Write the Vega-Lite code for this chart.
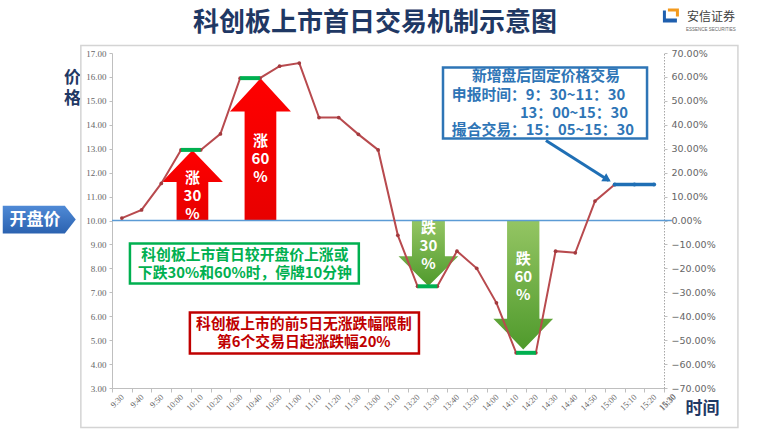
{
  "$schema": "https://vega.github.io/schema/vega-lite/v6.json",
  "width": 552,
  "height": 335,
  "autosize": {"type": "none"},
  "padding": {"left": 112, "top": 53, "right": 96, "bottom": 45},
  "background": "white",
  "config": {
    "view": {"stroke": null},
    "font": "Noto Sans CJK SC",
    "axis": {"labelFlush": false, "labelOverlap": false, "grid": false}
  },
  "datasets": {
    "series": [
      {"t": "9:30", "k": 0, "v": 10.1},
      {"t": "9:40", "k": 1, "v": 10.44},
      {"t": "9:50", "k": 2, "v": 11.55},
      {"t": "10:00", "k": 3, "v": 12.95},
      {"t": "10:10", "k": 4, "v": 12.95},
      {"t": "10:20", "k": 5, "v": 13.62},
      {"t": "10:30", "k": 6, "v": 15.95},
      {"t": "10:40", "k": 7, "v": 15.95},
      {"t": "10:50", "k": 8, "v": 16.45},
      {"t": "11:00", "k": 9, "v": 16.58},
      {"t": "11:10", "k": 10, "v": 14.3},
      {"t": "11:20", "k": 11, "v": 14.3},
      {"t": "11:30", "k": 12, "v": 13.6},
      {"t": "13:00", "k": 13, "v": 12.95},
      {"t": "13:10", "k": 14, "v": 9.38},
      {"t": "13:20", "k": 15, "v": 7.25},
      {"t": "13:30", "k": 16, "v": 7.25},
      {"t": "13:40", "k": 17, "v": 8.72},
      {"t": "13:50", "k": 18, "v": 8.0},
      {"t": "14:00", "k": 19, "v": 6.56},
      {"t": "14:10", "k": 20, "v": 4.47},
      {"t": "14:20", "k": 21, "v": 4.47},
      {"t": "14:30", "k": 22, "v": 8.72},
      {"t": "14:40", "k": 23, "v": 8.65},
      {"t": "14:50", "k": 24, "v": 10.81},
      {"t": "15:00", "k": 25, "v": 11.5}
    ],
    "after": [
      {"t": "15:00", "k": 25, "v": 11.5},
      {"t": "15:10", "k": 26, "v": 11.5},
      {"t": "15:20", "k": 27, "v": 11.5}
    ],
    "halts": [
      {"k": 3, "k2": 4, "v": 12.95},
      {"k": 6, "k2": 7, "v": 15.95},
      {"k": 15, "k2": 16, "v": 7.25},
      {"k": 20, "k2": 21, "v": 4.47}
    ],
    "arrows": [
      {"name": "up30", "dir": "up", "k": 3.58, "v": 10},
      {"name": "up60", "dir": "up", "k": 7.03, "v": 10},
      {"name": "dn30", "dir": "down", "k": 15.55, "v": 10},
      {"name": "dn60", "dir": "down", "k": 20.36, "v": 10}
    ],
    "arrowtext": [
      {"k": 3.58, "v": 11.76, "label": ["涨", "30", "%"]},
      {"k": 7.03, "v": 13.34, "label": ["涨", "60", "%"]},
      {"k": 15.55, "v": 9.67, "label": ["跌", "30", "%"]},
      {"k": 20.36, "v": 8.41, "label": ["跌", "60", "%"]}
    ],
    "boxes": [
      {"box": "note", "k": 16.29, "k2": 26.64, "v": 16.39, "v2": 13.43},
      {"box": "halt", "k": 0.41, "k2": 12.02, "v": 9.04, "v2": 7.37},
      {"box": "limit", "k": 3.45, "k2": 15.07, "v": 6.16, "v2": 4.44}
    ],
    "notelines": [
      {"k": 17.76, "v": 15.98, "label": "新增盘后固定价格交易"},
      {"k": 16.74, "v": 15.22, "label": "申报时间：9：30~11：30"},
      {"k": 20.19, "v": 14.47, "label": "13：00~15：30"},
      {"k": 16.74, "v": 13.72, "label": "撮合交易：15：05~15：30"}
    ],
    "boxtext": [
      {"box": "halt", "k": 6.24, "v": 8.5, "label": ["科创板上市首日较开盘价上涨或", "下跌30%和60%时，停牌10分钟"]},
      {"box": "limit", "k": 9.23, "v": 5.65, "label": ["科创板上市的前5日无涨跌幅限制", "第6个交易日起涨跌幅20%"]}
    ]
  },
  "resolve": {"axis": {"x": "independent", "y": "independent"}},
  "layer": [
    {
      "data": {"values": [{"k": -2.08, "k2": 31.25, "v": 17.31, "v2": 1.35}]},
      "mark": {"type": "rect", "filled": false, "color": "#d4d4d4", "strokeWidth": 1.5},
      "encoding": {
        "x": {"field": "k", "type": "quantitative", "axis": null},
        "x2": {"field": "k2"},
        "y": {"field": "v", "type": "quantitative", "axis": null},
        "y2": {"field": "v2"}
      }
    },
    {
      "data": {"name": "arrows"},
      "transform": [{"filter": "datum.dir === 'up'"}],
      "mark": {"type": "point", "filled": true, "opacity": 1, "size": 3721, "strokeWidth": 0,
        "fill": {"gradient": "linear", "x1": 0, "y1": 0, "x2": 0, "y2": 1, "stops": [{"offset": 0, "color": "#ff0000"}, {"offset": 1, "color": "#e80000"}]}},
      "encoding": {
        "x": {"field": "k", "type": "quantitative", "axis": null},
        "y": {"field": "v", "type": "quantitative", "axis": null},
        "shape": {"field": "name", "type": "nominal", "legend": null,
          "scale": {"domain": ["up30", "up60", "dn30", "dn60"], "range": [
            "M -0.52 0 L -0.52 -1.26 L -1 -1.26 L 0 -2.3 L 1 -1.26 L 0.52 -1.26 L 0.52 0 Z",
            "M -0.52 0 L -0.52 -3.57 L -1 -3.57 L 0 -4.66 L 1 -3.57 L 0.52 -3.57 L 0.52 0 Z",
            "M -0.54 0 L -0.54 1.17 L -0.98 1.17 L 0 2.15 L 0.98 1.17 L 0.54 1.17 L 0.54 0 Z",
            "M -0.53 0 L -0.53 3.22 L -0.98 3.22 L 0 4.23 L 0.98 3.22 L 0.53 3.22 L 0.53 0 Z"]}}
      }
    },
    {
      "data": {"name": "arrows"},
      "transform": [{"filter": "datum.dir === 'down'"}],
      "mark": {"type": "point", "filled": true, "opacity": 1, "size": 3721, "strokeWidth": 0,
        "fill": {"gradient": "linear", "x1": 0, "y1": 0, "x2": 0, "y2": 1, "stops": [{"offset": 0, "color": "#94c563"}, {"offset": 1, "color": "#4f9a2c"}]}},
      "encoding": {
        "x": {"field": "k", "type": "quantitative", "axis": null},
        "y": {"field": "v", "type": "quantitative", "axis": null},
        "shape": {"field": "name", "type": "nominal", "legend": null,
          "scale": {"domain": ["up30", "up60", "dn30", "dn60"], "range": [
            "M -0.52 0 L -0.52 -1.26 L -1 -1.26 L 0 -2.3 L 1 -1.26 L 0.52 -1.26 L 0.52 0 Z",
            "M -0.52 0 L -0.52 -3.57 L -1 -3.57 L 0 -4.66 L 1 -3.57 L 0.52 -3.57 L 0.52 0 Z",
            "M -0.54 0 L -0.54 1.17 L -0.98 1.17 L 0 2.15 L 0.98 1.17 L 0.54 1.17 L 0.54 0 Z",
            "M -0.53 0 L -0.53 3.22 L -0.98 3.22 L 0 4.23 L 0.98 3.22 L 0.53 3.22 L 0.53 0 Z"]}}
      }
    },
    {
      "data": {"values": [{"k": -0.5, "k2": 27.9, "v": 10}]},
      "mark": {"type": "rule", "color": "#5b9bd5", "strokeWidth": 1.5},
      "encoding": {
        "x": {"field": "k", "type": "quantitative", "axis": null},
        "x2": {"field": "k2"},
        "y": {"field": "v", "type": "quantitative", "axis": null}
      }
    },
    {
      "data": {"name": "series"},
      "mark": {"type": "line", "color": "#b84a4e", "strokeWidth": 2,
        "point": {"filled": true, "size": 14, "color": "#a33a3e", "opacity": 1}},
      "encoding": {
        "x": {"field": "k", "type": "quantitative",
          "scale": {"domain": [-0.5, 27.5], "nice": false, "zero": false},
          "axis": {
            "title": "时间", "titleX": 590, "titleY": 20, "titleAngle": 0, "titleAlign": "center", "titleBaseline": "middle",
            "titleFontSize": 17, "titleFontWeight": "bold", "titleColor": "#1f3864", "titleFont": "Noto Sans CJK SC",
            "values": [-0.5, 0.5, 1.5, 2.5, 3.5, 4.5, 5.5, 6.5, 7.5, 8.5, 9.5, 10.5, 11.5, 12.5, 13.5, 14.5, 15.5, 16.5, 17.5, 18.5, 19.5, 20.5, 21.5, 22.5, 23.5, 24.5, 25.5, 26.5, 27.5],
            "labelExpr": "['9:30','9:40','9:50','10:00','10:10','10:20','10:30','10:40','10:50','11:00','11:10','11:20','11:30','13:00','13:10','13:20','13:30','13:40','13:50','14:00','14:10','14:20','14:30','14:40','14:50','15:00','15:10','15:20','15:30'][round(datum.value + 0.5)]",
            "labelAngle": -45, "labelAlign": "right", "labelBaseline": "middle", "labelOffset": 10, "labelPadding": 3,
            "labelFlush": false, "labelOverlap": false, "labelBound": false,
            "labelFont": "Liberation Serif", "labelFontSize": 8.5, "labelColor": "#666666",
            "domainColor": "#bfbfbf", "tickColor": "#bfbfbf", "tickSize": 4
          }},
        "y": {"field": "v", "type": "quantitative",
          "scale": {"domain": [3, 17], "nice": false, "zero": false},
          "axis": {
            "values": [3, 4, 5, 6, 7, 8, 9, 10, 11, 12, 13, 14, 15, 16, 17], "format": ".2f",
            "labelFont": "Liberation Serif", "labelFontSize": 9, "labelColor": "#666666", "labelPadding": 3,
            "domainColor": "#bfbfbf", "tickColor": "#bfbfbf", "tickSize": 3,
            "title": ["价", "格"], "titleX": -40, "titleY": 24, "titleAngle": 0, "titleAlign": "center", "titleBaseline": "middle",
            "titleFontSize": 17, "titleFontWeight": "bold", "titleColor": "#1f3864", "titleLineHeight": 21, "titleFont": "Noto Sans CJK SC"
          }}
      }
    },
    {
      "data": {"values": [{"k": 28, "v": 2.71, "t": "15:30"}]},
      "mark": {"type": "text", "angle": -45, "align": "right", "baseline": "middle", "font": "Liberation Serif", "fontSize": 8.5, "color": "#666666"},
      "encoding": {
        "x": {"field": "k", "type": "quantitative", "axis": null},
        "y": {"field": "v", "type": "quantitative", "axis": null},
        "text": {"field": "t"}
      }
    },
    {
      "data": {"name": "after"},
      "mark": {"type": "line", "color": "#1f6fb5", "strokeWidth": 3.5,
        "point": {"filled": true, "size": 16, "color": "#1f6fb5", "opacity": 1}},
      "encoding": {
        "x": {"field": "k", "type": "quantitative", "axis": null},
        "y": {"field": "v", "type": "quantitative",
          "axis": {
            "orient": "right", "title": null,
            "values": [3, 4, 5, 6, 7, 8, 9, 10, 11, 12, 13, 14, 15, 16, 17],
            "labelExpr": "format((datum.value - 10) * 10, '.2f') + '%'",
            "labelFont": "DejaVu Sans", "labelFontSize": 9.5, "labelColor": "#666666", "labelPadding": 4,
            "domainColor": "#a6a6a6", "domainDash": [1.5, 1.5], "tickColor": "#bfbfbf", "tickSize": 3
          }}
      }
    },
    {
      "data": {"name": "halts"},
      "mark": {"type": "rule", "color": "#00b050", "strokeWidth": 4},
      "encoding": {
        "x": {"field": "k", "type": "quantitative", "axis": null},
        "x2": {"field": "k2"},
        "y": {"field": "v", "type": "quantitative", "axis": null}
      }
    },
    {
      "data": {"name": "arrowtext"},
      "mark": {"type": "text", "color": "white", "fontSize": 15, "fontWeight": "bold", "lineHeight": 18, "align": "center", "baseline": "middle", "font": "Noto Sans CJK SC"},
      "encoding": {
        "x": {"field": "k", "type": "quantitative", "axis": null},
        "y": {"field": "v", "type": "quantitative", "axis": null},
        "text": {"field": "label"}
      }
    },
    {
      "data": {"name": "boxes"},
      "mark": {"type": "rect", "fill": "white", "strokeWidth": 2.5},
      "encoding": {
        "x": {"field": "k", "type": "quantitative", "axis": null},
        "x2": {"field": "k2"},
        "y": {"field": "v", "type": "quantitative", "axis": null},
        "y2": {"field": "v2"},
        "stroke": {"field": "box", "type": "nominal", "legend": null,
          "scale": {"domain": ["note", "halt", "limit"], "range": ["#2e75b6", "#00b050", "#c00000"]}}
      }
    },
    {
      "data": {"name": "notelines"},
      "mark": {"type": "text", "color": "#2e75b6", "fontSize": 14.8, "fontWeight": "bold", "align": "left", "baseline": "middle", "font": "Noto Sans CJK SC"},
      "encoding": {
        "x": {"field": "k", "type": "quantitative", "axis": null},
        "y": {"field": "v", "type": "quantitative", "axis": null},
        "text": {"field": "label"}
      }
    },
    {
      "data": {"name": "boxtext"},
      "mark": {"type": "text", "fontSize": 14.8, "fontWeight": "bold", "lineHeight": 18, "align": "center", "baseline": "middle", "font": "Noto Sans CJK SC"},
      "encoding": {
        "x": {"field": "k", "type": "quantitative", "axis": null},
        "y": {"field": "v", "type": "quantitative", "axis": null},
        "text": {"field": "label"},
        "color": {"field": "box", "type": "nominal", "legend": null,
          "scale": {"domain": ["note", "halt", "limit"], "range": ["#2e75b6", "#00b050", "#c00000"]}}
      }
    },
    {
      "data": {"values": [{"k": 21.51, "v": 13.34, "k2": 24.7, "v2": 11.67}]},
      "mark": {"type": "rule", "color": "#1f6fb5", "strokeWidth": 3},
      "encoding": {
        "x": {"field": "k", "type": "quantitative", "axis": null},
        "x2": {"field": "k2"},
        "y": {"field": "v", "type": "quantitative", "axis": null},
        "y2": {"field": "v2"}
      }
    },
    {
      "data": {"values": [{"k": 24.62, "v": 11.72}]},
      "mark": {"type": "point", "shape": "triangle-right", "angle": 32, "size": 90, "filled": true, "opacity": 1, "color": "#1f6fb5"},
      "encoding": {
        "x": {"field": "k", "type": "quantitative", "axis": null},
        "y": {"field": "v", "type": "quantitative", "axis": null}
      }
    },
    {
      "data": {"values": [{"k": -4.19, "v": 10.04}]},
      "mark": {"type": "point", "filled": true, "opacity": 1, "size": 5329, "strokeWidth": 0,
        "shape": "M -1 -0.38 L 0.7 -0.38 L 1 0 L 0.7 0.38 L -1 0.38 Z",
        "fill": {"gradient": "linear", "x1": 0, "y1": 0, "x2": 0, "y2": 1, "stops": [{"offset": 0, "color": "#4f8ad6"}, {"offset": 1, "color": "#2b62b0"}]}},
      "encoding": {
        "x": {"field": "k", "type": "quantitative", "axis": null},
        "y": {"field": "v", "type": "quantitative", "axis": null}
      }
    },
    {
      "data": {"values": [{"k": -4.41, "v": 10.04, "label": "开盘价"}]},
      "mark": {"type": "text", "color": "white", "fontSize": 17, "fontWeight": "bold", "align": "center", "baseline": "middle", "font": "Noto Sans CJK SC"},
      "encoding": {
        "x": {"field": "k", "type": "quantitative", "axis": null},
        "y": {"field": "v", "type": "quantitative", "axis": null},
        "text": {"field": "label"}
      }
    },
    {
      "data": {"values": [{"k": 12.84, "v": 18.25, "label": "科创板上市首日交易机制示意图"}]},
      "mark": {"type": "text", "color": "#1f3864", "fontSize": 26, "fontWeight": "bold", "align": "center", "baseline": "middle", "font": "Noto Sans CJK SC"},
      "encoding": {
        "x": {"field": "k", "type": "quantitative", "axis": null},
        "y": {"field": "v", "type": "quantitative", "axis": null},
        "text": {"field": "label"}
      }
    },
    {
      "data": {"values": [{"k": 27.8, "v": 18.57}]},
      "mark": {"type": "point", "filled": true, "opacity": 1, "size": 100, "strokeWidth": 0, "color": "#1f5fae",
        "shape": "M -1.4 -1 L -0.8 -1 L -0.8 0.6 L 1.4 0.6 L 1.4 1.4 L -1.4 1.4 Z"},
      "encoding": {
        "x": {"field": "k", "type": "quantitative", "axis": null},
        "y": {"field": "v", "type": "quantitative", "axis": null}
      }
    },
    {
      "data": {"values": [{"k": 27.8, "v": 18.57}]},
      "mark": {"type": "point", "filled": true, "opacity": 1, "size": 100, "strokeWidth": 0, "color": "#f39a1e",
        "shape": "M -0.4 -1.4 L 1.8 -1.4 L 1.8 0.2 L 1.2 0.2 L 1.2 -0.8 L -0.4 -0.8 Z"},
      "encoding": {
        "x": {"field": "k", "type": "quantitative", "axis": null},
        "y": {"field": "v", "type": "quantitative", "axis": null}
      }
    },
    {
      "data": {"values": [{"k": 29.88, "v": 18.5, "label": "安信证券"}]},
      "mark": {"type": "text", "color": "#404040", "fontSize": 12, "align": "center", "baseline": "middle", "font": "Noto Sans CJK SC"},
      "encoding": {
        "x": {"field": "k", "type": "quantitative", "axis": null},
        "y": {"field": "v", "type": "quantitative", "axis": null},
        "text": {"field": "label"}
      }
    },
    {
      "data": {"values": [{"k": 29.88, "v": 17.97, "label": "ESSENCE SECURITIES"}]},
      "mark": {"type": "text", "color": "#666666", "fontSize": 4.5, "align": "center", "baseline": "middle", "font": "Liberation Sans"},
      "encoding": {
        "x": {"field": "k", "type": "quantitative", "axis": null},
        "y": {"field": "v", "type": "quantitative", "axis": null},
        "text": {"field": "label"}
      }
    }
  ]
}
